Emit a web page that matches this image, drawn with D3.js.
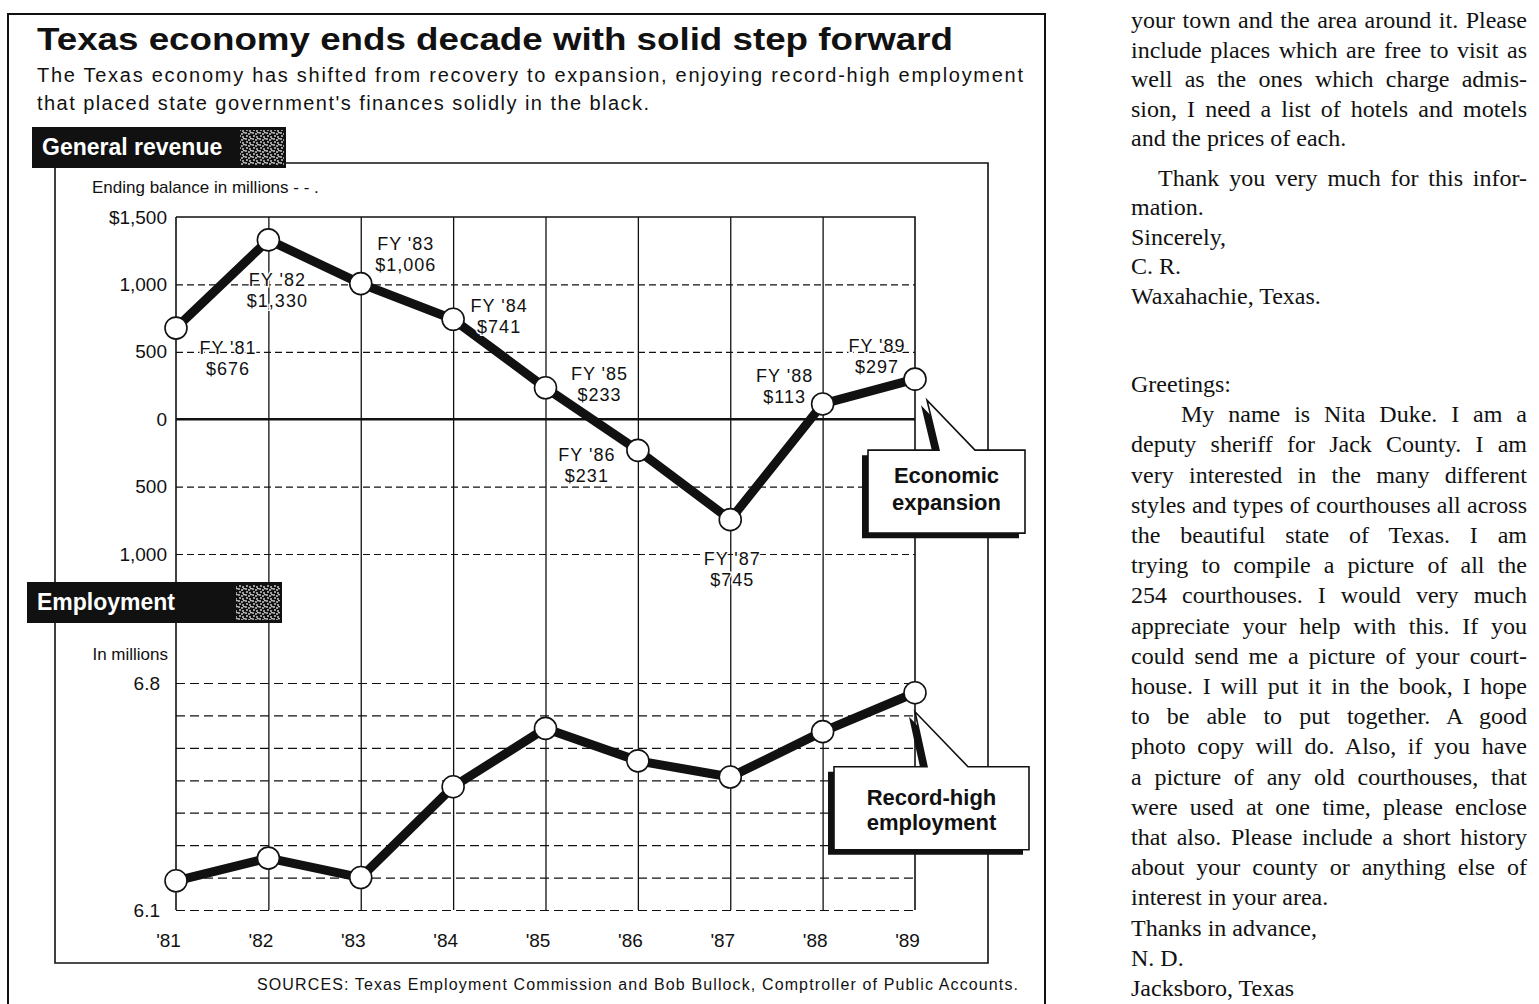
<!DOCTYPE html>
<html lang="en">
<head>
<meta charset="UTF-8">
<title>Texas economy ends decade with solid step forward</title>
<script src="https://cdn.jsdelivr.net/npm/d3@7"></script>
<style>
  body { margin: 0; background: #fff; }
  svg { display: block; }
  .sans { font-family: "Liberation Sans", Arial, Helvetica, sans-serif; }
  .serif { font-family: "Liberation Serif", "Times New Roman", serif; }
</style>
</head>
<body>
<svg id="page" width="1539" height="1004"></svg>
<script>
  // ---- chart data ----
  const years = [1981, 1982, 1983, 1984, 1985, 1986, 1987, 1988, 1989];
  const yearLabels = ["'81", "'82", "'83", "'84", "'85", "'86", "'87", "'88", "'89"];
  const fyLabels = ["FY '81", "FY '82", "FY '83", "FY '84", "FY '85", "FY '86", "FY '87", "FY '88", "FY '89"];
  // general revenue ending balance, $ millions
  const revenue = [676, 1330, 1006, 741, 233, -231, -745, 113, 297];
  // employment, millions
  const employment = [6.19, 6.26, 6.20, 6.48, 6.66, 6.56, 6.51, 6.65, 6.77];
  const revenueTicks = [1500, 1000, 500, 0, -500, -1000];
  const employmentTicks = [6.8, 6.1];

  // label placement next to each revenue point (layout only)
  const fyOffsets = [[52, 26], [9, 46], [45, -34], [46, -7], [54, -8], [-51, 11], [2, 45], [-38, -22], [-38, -27]];

  // neighbouring newspaper column
  const letterTop = [
    ["your town and the area around it. Please", true, 0],
    ["include places which are free to visit as", true, 0],
    ["well as the ones which charge admis-", true, 0],
    ["sion, I need a list of hotels and motels", true, 0],
    ["and the prices of each.", false, 0],
    ["Thank you very much for this infor-", true, 27],
    ["mation.", false, 0],
    ["Sincerely,", false, 0],
    ["C. R.", false, 0],
    ["Waxahachie, Texas.", false, 0]
  ];
  const letterBottom = [
    ["Greetings:", false, 0],
    ["My name is Nita Duke. I am a", true, 50],
    ["deputy sheriff for Jack County. I am", true, 0],
    ["very interested in the many different", true, 0],
    ["styles and types of courthouses all across", true, 0],
    ["the beautiful state of Texas. I am", true, 0],
    ["trying to compile a picture of all the", true, 0],
    ["254 courthouses. I would very much", true, 0],
    ["appreciate your help with this. If you", true, 0],
    ["could send me a picture of your court-", true, 0],
    ["house. I will put it in the book, I hope", true, 0],
    ["to be able to put together. A good", true, 0],
    ["photo copy will do. Also, if you have", true, 0],
    ["a picture of any old courthouses, that", true, 0],
    ["were used at one time, please enclose", true, 0],
    ["that also. Please include a short history", true, 0],
    ["about your county or anything else of", true, 0],
    ["interest in your area.", false, 0],
    ["Thanks in advance,", false, 0],
    ["N. D.", false, 0],
    ["Jacksboro, Texas", false, 0]
  ];

  const svg = d3.select('#page');
  const INK = '#111';

  // grain used on the black section tags
  const defs = svg.append('defs');
  const grain = defs.append('pattern').attr('id', 'grain')
    .attr('width', 7).attr('height', 6).attr('patternUnits', 'userSpaceOnUse');
  grain.append('rect').attr('width', 7).attr('height', 6).attr('fill', INK);
  [[1, 1], [4, 2], [2, 4], [5, 5], [6, 0.5]].forEach(p => {
    grain.append('circle').attr('cx', p[0]).attr('cy', p[1]).attr('r', 0.9).attr('fill', '#ddd');
  });

  // ---- frames ----
  const frames = svg.append('g').attr('fill', 'none').attr('stroke', INK);
  frames.append('path').attr('stroke-width', 2)
    .attr('d', 'M8,1004 V14 H1045 V1004');
  frames.append('path').attr('stroke-width', 1.6)
    .attr('d', 'M286,163 H988 V963 H55 V168');

  // ---- headline ----
  const head = svg.append('g').attr('class', 'sans').attr('fill', INK);
  head.append('text').attr('x', 37).attr('y', 50)
    .attr('font-size', 31).attr('font-weight', 'bold')
    .attr('textLength', 916).attr('lengthAdjust', 'spacingAndGlyphs')
    .text('Texas economy ends decade with solid step forward');
  head.append('text').attr('x', 37).attr('y', 82)
    .attr('font-size', 20).attr('textLength', 986).attr('lengthAdjust', 'spacing')
    .text('The Texas economy has shifted from recovery to expansion, enjoying record-high employment');
  head.append('text').attr('x', 37).attr('y', 110)
    .attr('font-size', 20).attr('textLength', 612).attr('lengthAdjust', 'spacing')
    .text("that placed state government's finances solidly in the black.");

  function sectionTag (x, y, w, label) {
    const g = svg.append('g').attr('class', 'sans');
    g.append('rect').attr('x', x).attr('y', y).attr('width', w).attr('height', 41).attr('fill', INK);
    g.append('rect').attr('x', x + w - 46).attr('y', y + 3).attr('width', 44).attr('height', 35).attr('fill', 'url(#grain)');
    g.append('text').attr('x', x + 10).attr('y', y + 28)
      .attr('font-size', 23).attr('font-weight', 'bold').attr('fill', '#fff')
      .text(label);
  }

  // ---- scales ----
  const x = d3.scaleLinear().domain([1981, 1989]).range([176, 915]);
  const yRev = d3.scaleLinear().domain([-1000, 1500]).range([554, 217]);
  const yEmp = d3.scaleLinear().domain([6.1, 6.8]).range([910, 683]);
  const plotLeft = x.range()[0], plotRight = x.range()[1];
  const plotTop = yRev(1500), plotBottom = yEmp(6.1);

  const chart = svg.append('g');

  // vertical grid, one per year
  chart.append('g')
    .attr('transform', `translate(0,${plotBottom})`)
    .call(d3.axisBottom(x).tickValues(years.slice(1, -1)).tickSize(-(plotBottom - plotTop)).tickFormat(''))
    .call(g => g.select('.domain').remove())
    .call(g => g.selectAll('line').attr('stroke', INK).attr('stroke-width', 1.3));

  // horizontal grids
  chart.append('g')
    .attr('transform', `translate(${plotLeft},0)`)
    .call(d3.axisLeft(yRev).tickValues(revenueTicks.filter(d => d !== 0 && d !== 1500)).tickSize(-(plotRight - plotLeft)).tickFormat(''))
    .call(g => g.select('.domain').remove())
    .call(g => g.selectAll('line').attr('stroke', INK).attr('stroke-width', 1.2).attr('stroke-dasharray', '7,4'));
  chart.append('g')
    .attr('transform', `translate(${plotLeft},0)`)
    .call(d3.axisLeft(yEmp).ticks(7).tickSize(-(plotRight - plotLeft)).tickFormat(''))
    .call(g => g.select('.domain').remove())
    .call(g => g.selectAll('line').attr('stroke', INK).attr('stroke-width', 1.2).attr('stroke-dasharray', '9,5'));

  // frame lines of the plot
  const edges = chart.append('g').attr('stroke', INK).attr('fill', 'none');
  edges.append('path').attr('stroke-width', 1.6)
    .attr('d', `M${plotLeft},${plotTop} H${plotRight} V${plotBottom}`);
  edges.append('path').attr('stroke-width', 1.6)
    .attr('d', `M${plotLeft},${plotTop} V${plotBottom - 37} M${plotLeft},${plotBottom - 18} V${plotBottom}`);
  edges.append('line').attr('stroke-width', 2.6)
    .attr('x1', plotLeft).attr('x2', plotRight).attr('y1', yRev(0)).attr('y2', yRev(0));

  // axis labels
  const revFmt = d => d === 1500 ? '$1,500' : d3.format(',')(Math.abs(d));
  chart.append('g')
    .attr('transform', 'translate(167,0)')
    .call(d3.axisLeft(yRev).tickValues(revenueTicks).tickSize(0).tickPadding(0).tickFormat(revFmt))
    .call(g => g.select('.domain').remove())
    .call(g => g.selectAll('text').attr('class', 'sans').attr('font-size', 19).attr('fill', INK));
  chart.append('g')
    .attr('transform', 'translate(160,0)')
    .call(d3.axisLeft(yEmp).tickValues(employmentTicks).tickSize(0).tickPadding(0).tickFormat(d3.format('.1f')))
    .call(g => g.select('.domain').remove())
    .call(g => g.selectAll('text').attr('class', 'sans').attr('font-size', 19).attr('fill', INK));
  chart.append('g')
    .attr('transform', 'translate(-8,0)')
    .call(d3.axisBottom(x).tickValues(years).tickSize(0).tickFormat((d, i) => yearLabels[i]))
    .call(g => g.select('.domain').remove())
    .call(g => g.selectAll('text').attr('class', 'sans').attr('font-size', 19).attr('fill', INK)
      .attr('y', 947).attr('dy', 0));

  chart.append('text').attr('class', 'sans').attr('x', 92).attr('y', 193)
    .attr('font-size', 17).attr('fill', INK).text('Ending balance in millions - - .');
  chart.append('text').attr('class', 'sans').attr('x', 168).attr('y', 660)
    .attr('text-anchor', 'end').attr('font-size', 17).attr('fill', INK).text('In millions');

  // ---- lines ----
  function drawSeries (values, yScale) {
    const line = d3.line().x((d, i) => x(years[i])).y(d => yScale(d));
    chart.append('path').datum(values)
      .attr('d', line).attr('fill', 'none').attr('stroke', INK)
      .attr('stroke-width', 9).attr('stroke-linejoin', 'round');
    chart.append('g').selectAll('circle').data(values).join('circle')
      .attr('cx', (d, i) => x(years[i])).attr('cy', d => yScale(d)).attr('r', 11)
      .attr('fill', '#fff').attr('stroke', INK).attr('stroke-width', 1.6);
  }
  drawSeries(revenue, yRev);
  drawSeries(employment, yEmp);

  // value labels on the revenue line
  const fy = chart.append('g').attr('class', 'sans').attr('font-size', 18).attr('fill', INK)
    .attr('text-anchor', 'middle').attr('letter-spacing', 1)
    .attr('stroke', '#fff').attr('stroke-width', 3).attr('paint-order', 'stroke');
  revenue.forEach((v, i) => {
    const cx = x(years[i]) + fyOffsets[i][0];
    const by = yRev(v) + fyOffsets[i][1];
    fy.append('text').attr('x', cx).attr('y', by).text(fyLabels[i]);
    fy.append('text').attr('x', cx).attr('y', by + 21).text('$' + d3.format(',')(Math.abs(v)));
  });

  // ---- section tags (drawn over the frame) ----
  sectionTag(32, 127, 254, 'General revenue');
  sectionTag(27, 582, 255, 'Employment');

  // ---- callouts ----
  function callout (px, py, box, tail, lines, baselines) {
    const [l, t, r, b] = [px + box[0], py + box[1], px + box[2], py + box[3]];
    const d = `M${l},${t} H${px + tail[1]} L${px + tail[0][0]},${py + tail[0][1]} L${px + tail[2]},${t} H${r} V${b} H${l} Z`;
    const g = svg.append('g');
    g.append('path').attr('d', d).attr('fill', INK).attr('transform', 'translate(-6,5)');
    g.append('path').attr('d', d).attr('fill', '#fff').attr('stroke', INK).attr('stroke-width', 1.6);
    lines.forEach((s, k) => {
      g.append('text').attr('class', 'sans').attr('x', (l + r) / 2).attr('y', t + baselines[k])
        .attr('text-anchor', 'middle').attr('font-size', 22).attr('font-weight', 'bold').attr('fill', INK)
        .text(s);
    });
  }
  const last = years.length - 1;
  callout(x(years[last]), yRev(revenue[last]), [-47, 71, 110, 154], [[12, 21], 24, 60],
    ['Economic', 'expansion'], [33, 60]);
  callout(x(years[last]), yEmp(employment[last]), [-81, 74, 114, 157], [[0, 19], 12, 53],
    ['Record-high', 'employment'], [38, 63]);

  // ---- source line ----
  svg.append('text').attr('class', 'sans').attr('x', 257).attr('y', 990)
    .attr('font-size', 16).attr('fill', INK)
    .attr('textLength', 761).attr('lengthAdjust', 'spacing')
    .text('SOURCES: Texas Employment Commission and Bob Bullock, Comptroller of Public Accounts.');

  // ---- neighbouring column of letters ----
  const colLeft = 1131, colRight = 1527;
  function column (lines, startY, step) {
    const g = svg.append('g').attr('class', 'serif').attr('font-size', 24).attr('fill', INK);
    let y = startY;
    lines.forEach(([s, justify, indent], k) => {
      if (k > 0) y += step;
      if (k === 5 && lines === letterTop) y += 10;
      const t = g.append('text').attr('x', colLeft + indent).attr('y', y).text(s);
      if (justify) {
        const target = colRight - colLeft - indent;
        const natural = t.node().getComputedTextLength();
        const gaps = (s.match(/ /g) || []).length;
        if (natural > target) {
          t.attr('textLength', target).attr('lengthAdjust', 'spacingAndGlyphs');
        } else if (gaps) {
          t.attr('word-spacing', (target - natural) / gaps);
        }
      }
    });
  }
  column(letterTop, 28, 29.5);
  column(letterBottom, 392, 30.2);
</script>
</body>
</html>
